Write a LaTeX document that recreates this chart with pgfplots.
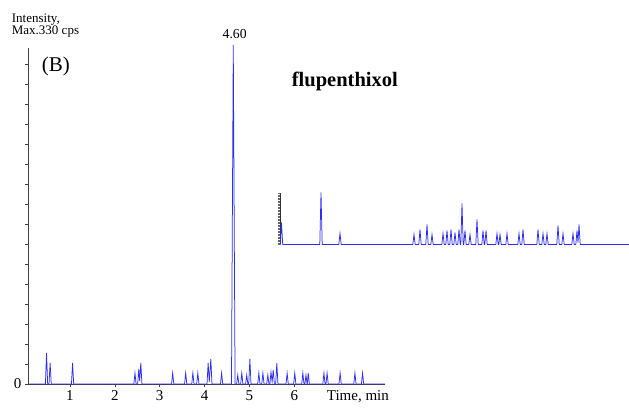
\documentclass[border=0pt]{standalone}
\usepackage{pgfplots}
\pgfplotsset{compat=1.18}
\usepackage{fontspec}
\setmainfont{Liberation Serif}
\definecolor{cblue}{RGB}{45,45,245}

\pgfplotstableread{
t h
0.067 0
0.455 0
0.48 31
0.505 0
0.535 0
0.56 21
0.585 0
1.035 0
1.06 21
1.085 0
2.425 0
2.45 11
2.475 0
2.51 0
2.535 15
2.555 3
2.58 21
2.605 0
3.265 0
3.29 11
3.315 0
3.555 0
3.58 11
3.605 0
3.715 0
3.74 11
3.765 0
3.825 0
3.85 11
3.875 0
4.055 0
4.08 21
4.105 2
4.14 25
4.165 0
4.355 0
4.38 11
4.405 0
4.60 0
4.64 339
4.68 0
4.715 0
4.74 9
4.765 0
4.805 0
4.83 11
4.855 0
4.915 0
4.94 9
4.965 0
4.985 0
5.01 25
5.035 0
5.185 0
5.21 11
5.235 0
5.275 0
5.30 11
5.325 0
5.385 0
5.41 9
5.435 0
5.455 0
5.48 12
5.505 2
5.53 14
5.555 0
5.585 0
5.61 21
5.635 0
5.815 0
5.84 11
5.865 0
5.985 0
6.01 11
6.035 0
6.165 0
6.19 11
6.215 0
6.235 0
6.26 9
6.285 0
6.29 0
6.31 11
6.335 0
6.635 0
6.66 11
6.685 0
6.705 0
6.73 11
6.755 0
6.995 0
7.02 11
7.045 0
7.325 0
7.35 11
7.375 0
7.495 0
7.52 11
7.545 0
8.02 0
}\maindata

\pgfplotstableread{
x h
0 0
0.3 0
1.5 22
2.7 0
39.8 0
41 52
42.2 0
58.8 0
60 11
61.2 0
132.8 0
134 10
135.2 0
138.8 0
140 15
141.2 0
145.8 0
147 20
148.2 0
150.8 0
152 10
153.2 0
161.8 0
163 11
164.2 0
165.8 0
167 14
168.2 0
169.8 0
171 15
172.2 0
173.8 0
175 12
176.2 0
177.8 0
179 15
180.2 0
180.8 0
182 41
183.2 0
183.8 0
185 14
186.2 0
188.8 0
190 10
191.2 0
195.8 0
197 25
198.2 0
201.8 0
203 14
204.2 0
204.8 0
206 14
207.2 0
215.8 0
217 11
218.2 0
218.8 0
220 10
221.2 0
225.8 0
227 11
228.2 0
237.8 0
239 11
240.2 0
241.8 0
243 15
244.2 0
256.8 0
258 15
259.2 0
261.8 0
263 11
264.2 0
265.8 0
267 11
268.2 0
276.8 0
278 19
279.2 0
281.8 0
283 11
284.2 0
291.8 0
293 11
294.2 0
295.8 0
297 14
298 2
299 20
300.2 0
349 0
}\insetdata

\begin{document}
\begin{tikzpicture}[x=1pt,y=1pt]
\useasboundingbox (0,0) rectangle (629,407);
\begin{axis}[
  at={(28pt,23pt)}, anchor=south west,
  scale only axis, width=357pt, height=336pt,
  xmin=0.067, xmax=8.02, ymin=0, ymax=336,
  axis x line*=bottom, axis y line*=left,
  axis line style={-, black!75, line width=0.6pt},
  xtick={1,...,6},
  ytick={20,40,...,320}, yticklabels={},
  extra y ticks={0}, extra y tick labels={0},
  tick align=outside, major tick length=3pt,
  tick style={black!75, line width=0.5pt},
  ticklabel style={font=\fontsize{15}{15}\selectfont},
  /pgf/number format/assume math mode=true,
  clip=false,
]
\addplot[cblue, line width=0.75pt] table[x=t, y=h] {\maindata};
\end{axis}
\begin{axis}[
  at={(280pt,162.5pt)}, anchor=south west,
  scale only axis, width=349pt, height=51pt,
  xmin=0, xmax=349, ymin=0, ymax=51,
  axis x line=none, axis y line*=left,
  axis line style={-, black!80, line width=0.6pt},
  ytick={0,1.5,...,51}, yticklabels={},
  tick align=outside, major tick length=2pt,
  tick style={black!60, line width=0.3pt},
  clip=false,
]
\addplot[cblue, line width=0.75pt] table[x=x, y=h] {\insetdata};
\end{axis}
\node[anchor=base west, inner sep=0, font=\fontsize{13}{13}\selectfont] at (11.7, 384.3) {Intensity,};
\node[anchor=base west, inner sep=0, font=\fontsize{13}{13}\selectfont] at (11.7, 372.7) {Max.330 cps};
\node[anchor=base, inner sep=0, font=\fontsize{13.7}{13.7}\selectfont] at (234.7, 368) {4.60};
\node[anchor=base west, inner sep=0, font=\fontsize{21}{21}\selectfont] at (41.7, 335) {(B)};
\node[anchor=base west, inner sep=0, font=\bfseries\fontsize{20.5}{20.5}\selectfont] at (291.7, 320.5) {flupenthixol};
\node[anchor=base west, inner sep=0, font=\fontsize{15}{15}\selectfont] at (326.7, 6.3) {Time, min};
\end{tikzpicture}
\end{document}
